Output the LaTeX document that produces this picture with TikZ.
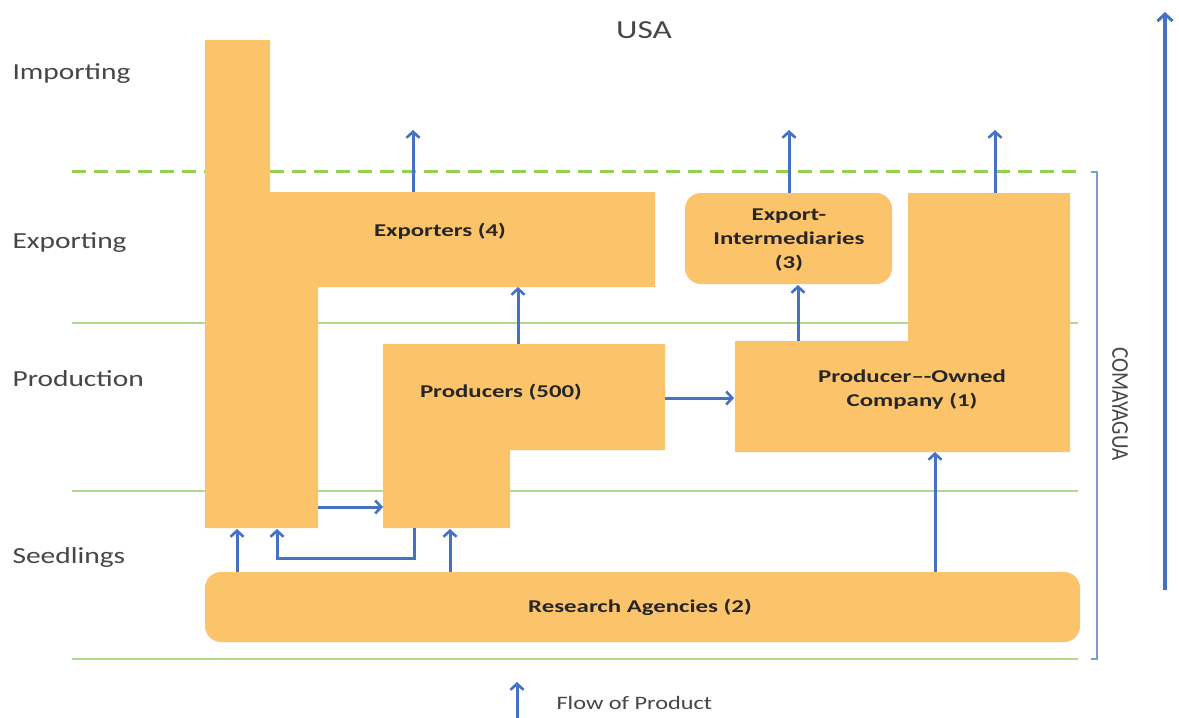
\documentclass[tikz,border=0pt]{standalone}
\usepackage{fontspec}
\setmainfont{Carlito}
\newfontfamily\lanefont[FakeStretch=1.28]{Carlito}
\newfontfamily\boxfont[FakeStretch=1.38]{Carlito}
\newfontfamily\narrowfont[FakeStretch=0.88]{Carlito}
\usetikzlibrary{arrows.meta}
\definecolor{boxorange}{RGB}{251,196,106}
\definecolor{flowblue}{RGB}{68,114,196}
\definecolor{lanegreen}{RGB}{146,208,80}
\definecolor{thingreen}{RGB}{175,218,140}
\definecolor{labelgray}{RGB}{70,70,70}
\tikzset{
  shapefill/.style={fill=boxorange, draw=none},
  roundbox/.style={fill=boxorange, draw=none, rounded corners=16pt},
  boxtext/.style={font=\boxfont\bfseries\fontsize{18}{24}\selectfont, text=black!85, align=center},
  lanetext/.style={font=\lanefont\fontsize{23}{26}\selectfont, text=labelgray, anchor=west},
  flow/.style={draw=flowblue, line width=3pt, -{Straight Barb[length=6pt,width=13pt,line width=2.6pt]}},
  laneline/.style={draw=thingreen, line width=1.2pt},
  bordline/.style={draw=lanegreen, line width=3pt, dash pattern=on 14pt off 8pt},
}
\begin{document}
\begin{tikzpicture}[x=1pt,y=-1pt]
\path[use as bounding box, fill=white] (0,0) rectangle (1179,718);

% lane lines
\draw[bordline] (72,171) -- (1078,171);
\draw[laneline] (72,323) -- (1078,323);
\draw[laneline] (72,491) -- (1078,491);
\draw[laneline] (72,659) -- (1078,659);

% lane labels
\node[lanetext] (limp) at (9,74) {Importing};
\node[lanetext] (lexp) at (9,243) {Exporting};
\node[lanetext] (lpro) at (9,379) {Production};
\node[lanetext] (lsee) at (9,557) {Seedlings};
\node[font=\lanefont\fontsize{26}{28}\selectfont, text=labelgray] (usa) at (644,30) {USA};

% shapes
\fill[shapefill] (205,40) -- (270,40) -- (270,192) -- (655,192) -- (655,287) -- (318,287) -- (318,528) -- (205,528) -- cycle;
\fill[shapefill] (383,344) -- (665,344) -- (665,450) -- (510,450) -- (510,528) -- (383,528) -- cycle;
\fill[shapefill] (908,193) -- (1070,193) -- (1070,452) -- (735,452) -- (735,341) -- (908,341) -- cycle;
\fill[roundbox] (685,193) rectangle (892,284);
\fill[roundbox] (205,572) rectangle (1080,642);

% texts
\node[boxtext] (exporters) at (440,231) {Exporters (4)};
\node[boxtext] (producers) at (501,392) {Producers (500)};
\node[boxtext] (interm) at (789,240) {Export-\\Intermediaries\\(3)};
\node[boxtext] (poc) at (912,390) {Producer–-Owned\\Company (1)};
\node[boxtext] (research) at (640,607) {Research Agencies (2)};

% connector coordinates
\coordinate (expTop) at (413,192);
\coordinate (expOut) at (413,130);
\coordinate (intTop) at (789,193);
\coordinate (intOut) at (789,130);
\coordinate (pocTop) at (995,193);
\coordinate (pocOut) at (995,130);
\coordinate (proTop) at (518,344);
\coordinate (expBot) at (518,287);
\coordinate (pocTopL) at (798,341);
\coordinate (intBot) at (798,285);
\coordinate (proRight) at (665,398);
\coordinate (pocLeft) at (734,398);
\coordinate (colRight) at (318,507);
\coordinate (proLeft) at (383,507);
\coordinate (resA) at (237,572);
\coordinate (colBotA) at (237,529);
\coordinate (proBot) at (414,528);
\coordinate (colBotB) at (277,529);
\coordinate (resB) at (450,572);
\coordinate (proBotB) at (450,529);
\coordinate (resC) at (935,572);
\coordinate (pocBot) at (935,452);

\draw[flow] (expTop) -- (expOut);
\draw[flow] (intTop) -- (intOut);
\draw[flow] (pocTop) -- (pocOut);
\draw[flow] (proTop) -- (expBot);
\draw[flow] (pocTopL) -- (intBot);
\draw[flow] (proRight) -- (pocLeft);
\draw[flow] (colRight) -- (proLeft);
\draw[flow] (resA) -- (colBotA);
\draw[flow] (proBot) -- (414,558) -- (277,558) -- (colBotB);
\draw[flow] (resB) -- (proBotB);
\draw[flow] (resC) -- (pocBot);

% Comayagua bracket
\coordinate (brTop) at (1097,172);
\coordinate (brBot) at (1097,659);
\draw[flowblue!70, line width=1.2pt] (1091,172) -- (brTop) -- (brBot) -- (1091,659);
\node[rotate=-90, font=\narrowfont\fontsize{24}{26}\selectfont, text=labelgray] (comay) at (1120,404) {COMAYAGUA};

% big arrow
\coordinate (bigBot) at (1165,590);
\coordinate (bigTop) at (1165,12);
\draw[draw=flowblue, line width=4pt, -{Straight Barb[length=7pt,width=15pt,line width=3pt]}] (bigBot) -- (bigTop);

% legend
\coordinate (legBot) at (517,718);
\coordinate (legTop) at (517,682);
\draw[flow] (legBot) -- (legTop);
\node[anchor=west, font=\lanefont\fontsize{19}{22}\selectfont, text=labelgray] (legend) at (553,703) {Flow of Product};
\end{tikzpicture}
\end{document}
